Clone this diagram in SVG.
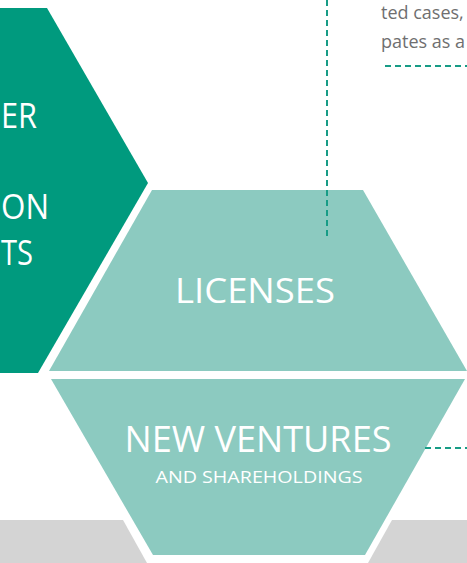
<svg xmlns="http://www.w3.org/2000/svg" width="467" height="563" viewBox="0 0 467 563">
  <style>
    .dark { fill: #009a7e; }
    .light { fill: #8ccac0; }
    .base { fill: #d4d4d4; }
    .lbl { fill: #ffffff; font-family: "Open Sans", "Liberation Sans", sans-serif; }
    .note { fill: #6f6f70; font-family: "Open Sans", "Liberation Sans", sans-serif; font-size: 18px; }
    .dash { fill: none; stroke: #179c86; stroke-width: 2; stroke-dasharray: 6 4; }
  </style>

  <!-- grey base strips -->
  <g id="base-left"><polygon class="base" points="0,520 123,520 147,563 0,563"/></g>
  <g id="base-right"><polygon class="base" points="392,520 467,520 467,563 368,563"/></g>

  <!-- dark hexagon, mostly off the left edge -->
  <g id="transfer">
    <polygon class="dark" points="-80,8 47,8 148,183 38,373 -80,373"/>
    <text class="lbl" x="1" y="128" font-size="34" textLength="36" lengthAdjust="spacingAndGlyphs">ER</text>
    <text class="lbl" x="1" y="219" font-size="34" textLength="48" lengthAdjust="spacingAndGlyphs">ON</text>
    <text class="lbl" x="1" y="265" font-size="34" textLength="32" lengthAdjust="spacingAndGlyphs">TS</text>
  </g>

  <!-- licenses trapezoid -->
  <g id="licenses">
    <polygon class="light" points="152,190 363,190 467,371 49,371"/>
    <text class="lbl" x="255" y="303" font-size="35" text-anchor="middle" textLength="160" lengthAdjust="spacingAndGlyphs">LICENSES</text>
  </g>

  <!-- new ventures trapezoid -->
  <g id="new-ventures">
    <polygon class="light" points="51,379 465,379 365,555 153,555"/>
    <text class="lbl" x="258" y="452" font-size="36" text-anchor="middle" textLength="267" lengthAdjust="spacingAndGlyphs">NEW VENTURES</text>
    <text class="lbl" x="259" y="483" font-size="17" text-anchor="middle" textLength="207" lengthAdjust="spacingAndGlyphs">AND SHAREHOLDINGS</text>
  </g>

  <!-- side note text -->
  <g id="note">
    <text class="note" x="381" y="19">ted cases,</text>
    <text class="note" x="381" y="48">pates as a</text>
  </g>

  <!-- dashed leader lines -->
  <g id="connectors">
    <line class="dash" x1="327" y1="0" x2="327" y2="240"/>
    <line class="dash" x1="385" y1="66" x2="467" y2="66"/>
    <line class="dash" x1="425" y1="448" x2="467" y2="448"/>
  </g>
</svg>
